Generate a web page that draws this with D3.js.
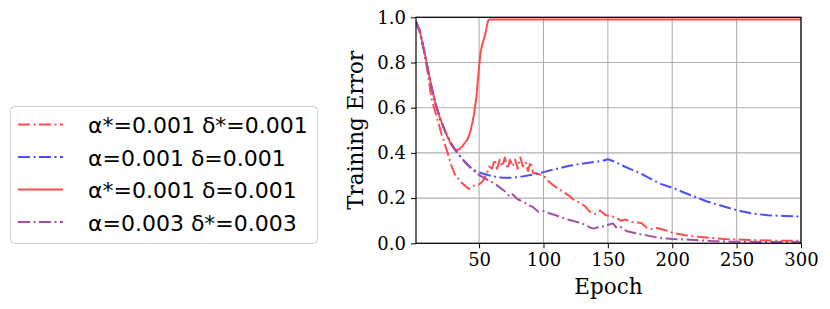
<!DOCTYPE html>
<html>
<head>
<meta charset="utf-8">
<script src="https://cdn.jsdelivr.net/npm/d3@7"></script>
<style>
  html, body { margin: 0; padding: 0; background: #fff; }
  svg { display: block; }
</style>
</head>
<body>
<svg id="chart" width="830" height="309"></svg>
<script>
// ---- data ----
const seriesNames = ["α*=0.001 δ*=0.001", "α=0.001 δ=0.001", "α*=0.001 δ=0.001", "α=0.003 δ*=0.003"];
const xTicks = [50, 100, 150, 200, 250, 300];
const yTicks = [0.0, 0.2, 0.4, 0.6, 0.8, 1.0];

const redDashEpochs = [1,3,6,10,13,17,21,25,29,32,34,36,38,40,42,44,46,48,50,52,54,56,58,60,62,64,66,68,70,72,74,76,78,80,82,84,86,88,90,92,94,97,100,104,108,112,116,120,124,128,132,136,140,144,148,152,156,160,164,168,172,176,180,184,188,192,196,200,210,220,230,240,250,260,275,300];
const redDashValues = [0.98,0.95,0.89,0.76,0.64,0.56,0.48,0.41,0.335,0.295,0.285,0.27,0.26,0.25,0.24,0.25,0.255,0.26,0.26,0.27,0.285,0.31,0.34,0.33,0.37,0.33,0.37,0.34,0.38,0.33,0.37,0.34,0.37,0.33,0.38,0.34,0.36,0.32,0.36,0.31,0.31,0.305,0.30,0.275,0.255,0.24,0.225,0.21,0.19,0.18,0.165,0.14,0.13,0.145,0.125,0.12,0.115,0.10,0.105,0.095,0.092,0.09,0.07,0.063,0.068,0.062,0.055,0.047,0.036,0.029,0.024,0.019,0.017,0.015,0.012,0.011];

const blueEpochs = [1,4,8,12,16,20,24,28,32,36,40,44,48,52,57,62,68,75,83,91,100,109,120,130,140,146,150,155,160,168,175,183,191,200,209,217,227,237,250,261,274,287,300];
const blueValues = [0.98,0.94,0.835,0.72,0.62,0.548,0.492,0.445,0.41,0.38,0.355,0.333,0.318,0.31,0.302,0.295,0.29,0.29,0.295,0.303,0.315,0.328,0.343,0.352,0.36,0.365,0.372,0.362,0.347,0.327,0.31,0.286,0.263,0.246,0.225,0.207,0.185,0.168,0.147,0.133,0.124,0.121,0.118];

const redSolidEpochs = [1,4,8,12,16,20,24,28,31,33,35,37,39,41,43,45,46,47,48,49,50,51,52,53,55,56,57,58,100,150,200,250,300];
const redSolidValues = [0.98,0.94,0.835,0.72,0.62,0.548,0.49,0.44,0.415,0.412,0.418,0.43,0.445,0.46,0.49,0.54,0.57,0.61,0.65,0.72,0.78,0.84,0.87,0.89,0.93,0.96,0.985,0.99,0.99,0.99,0.99,0.99,0.99];

const purpleEpochs = [1,4,8,12,16,20,24,28,32,36,40,44,48,52,57,61,65,70,73,75,80,85,88,92,96,100,105,109,113,117,121,125,129,133,136,139,143,147,151,154,157,160,165,170,175,181,188,196,200,210,220,230,247,275,300];
const purpleValues = [0.98,0.935,0.83,0.715,0.62,0.546,0.492,0.443,0.408,0.378,0.352,0.33,0.31,0.295,0.28,0.268,0.252,0.23,0.212,0.222,0.195,0.182,0.17,0.16,0.14,0.143,0.132,0.125,0.117,0.108,0.102,0.096,0.09,0.081,0.07,0.065,0.073,0.076,0.083,0.088,0.067,0.072,0.053,0.047,0.04,0.034,0.026,0.021,0.019,0.017,0.014,0.01,0.007,0.006,0.005];

// ---- layout ----
const plot = { left: 416, top: 17.3, right: 801, bottom: 243.3 };
const svg = d3.select("#chart");

const x = d3.scaleLinear().domain([1, 300]).range([plot.left, plot.right]);
const y = d3.scaleLinear().domain([0, 1]).range([plot.bottom, plot.top]);

// grid
const grid = svg.append("g");
grid.selectAll("line.gx").data(xTicks).enter().append("line")
  .attr("x1", d => x(d)).attr("x2", d => x(d))
  .attr("y1", plot.top).attr("y2", plot.bottom)
  .attr("stroke", "#b0b0b0").attr("stroke-width", 1.1);
grid.selectAll("line.gy").data(yTicks).enter().append("line")
  .attr("x1", plot.left).attr("x2", plot.right)
  .attr("y1", d => y(d)).attr("y2", d => y(d))
  .attr("stroke", "#b0b0b0").attr("stroke-width", 1.1);

// series
const styles = [
  { color: "#ff4d4d", dash: "12,3.5,2,3.5" },
  { color: "#4d4dff", dash: "12,3.5,2,3.5" },
  { color: "#ff4d4d", dash: null },
  { color: "#a64da6", dash: "12,3.5,2,3.5" }
];
const seriesData = [
  d3.zip(redDashEpochs, redDashValues),
  d3.zip(blueEpochs, blueValues),
  d3.zip(redSolidEpochs, redSolidValues),
  d3.zip(purpleEpochs, purpleValues)
];
const line = d3.line().x(d => x(d[0])).y(d => y(d[1]));
const clipId = "plotclip";
svg.append("clipPath").attr("id", clipId).append("rect")
  .attr("x", plot.left).attr("y", plot.top - 2)
  .attr("width", plot.right - plot.left).attr("height", plot.bottom - plot.top + 2);
const lines = svg.append("g").attr("clip-path", `url(#${clipId})`);
seriesData.forEach((data, i) => {
  lines.append("path")
    .attr("d", line(data))
    .attr("fill", "none")
    .attr("stroke", styles[i].color)
    .attr("stroke-width", 2)
    .attr("stroke-dasharray", styles[i].dash)
    .attr("stroke-linejoin", "round");
});

// axes
const font = "'DejaVu Serif', serif";
const xAxis = d3.axisBottom(x).tickValues(xTicks).tickFormat(d3.format("d")).tickSizeOuter(0).tickSize(5).tickPadding(5);
const yAxis = d3.axisLeft(y).tickValues(yTicks).tickFormat(d3.format(".1f")).tickSizeOuter(0).tickSize(5).tickPadding(5);
const gx = svg.append("g").attr("transform", `translate(0,${plot.bottom})`).call(xAxis);
const gy = svg.append("g").attr("transform", `translate(${plot.left},0)`).call(yAxis);
[gx, gy].forEach(g => {
  g.select(".domain").remove();
  g.selectAll("line").attr("stroke", "#000").attr("stroke-width", 1);
  g.selectAll("text").attr("font-family", font).attr("font-size", 18).attr("fill", "#000");
});

// frame
svg.append("rect")
  .attr("x", plot.left).attr("y", plot.top)
  .attr("width", plot.right - plot.left).attr("height", plot.bottom - plot.top)
  .attr("fill", "none").attr("stroke", "#000").attr("stroke-width", 1.2);

// axis labels
svg.append("text")
  .attr("x", (plot.left + plot.right) / 2).attr("y", 294)
  .attr("text-anchor", "middle")
  .attr("font-family", font).attr("font-size", 21.5).attr("fill", "#000")
  .text("Epoch");
svg.append("text")
  .attr("transform", `translate(363,${(plot.top + plot.bottom) / 2}) rotate(-90)`)
  .attr("text-anchor", "middle")
  .attr("font-family", font).attr("font-size", 21.5).attr("fill", "#000")
  .text("Training Error");

// legend
const legend = svg.append("g");
legend.append("rect")
  .attr("x", 10.5).attr("y", 106.5).attr("width", 307).attr("height", 137)
  .attr("rx", 4).attr("ry", 4)
  .attr("fill", "#fff").attr("stroke", "#d0d0d0").attr("stroke-width", 1);
const rowY = [124.5, 157, 189.5, 222];
seriesNames.forEach((name, i) => {
  legend.append("line")
    .attr("x1", 18).attr("x2", 63)
    .attr("y1", rowY[i]).attr("y2", rowY[i])
    .attr("stroke", styles[i].color).attr("stroke-width", 2)
    .attr("stroke-dasharray", styles[i].dash);
  legend.append("text")
    .attr("x", 88).attr("y", rowY[i] + 8.5)
    .attr("font-family", "'DejaVu Sans', sans-serif").attr("font-size", 22).attr("fill", "#000")
    .text(name);
});
</script>
</body>
</html>
